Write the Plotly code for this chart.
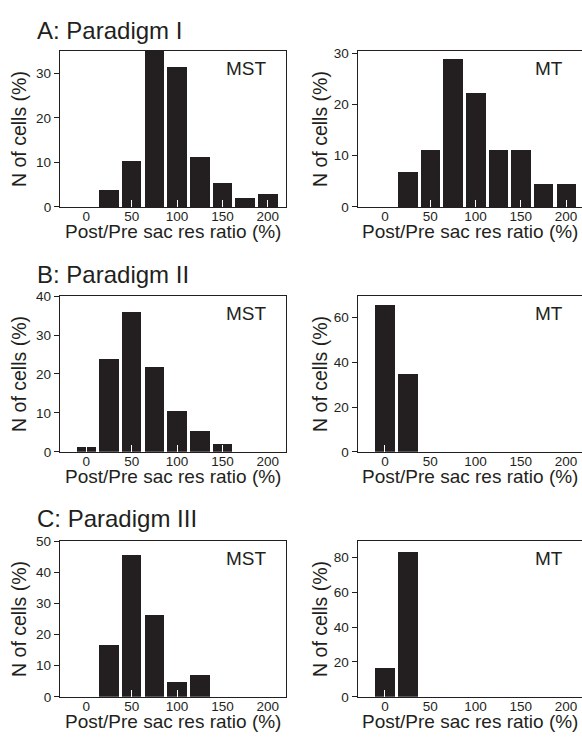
import plotly.graph_objects as go

# ---- data ----
bins = [0, 25, 50, 75, 100, 125, 150, 175, 200]
tick_vals = [0, 50, 100, 150, 200]

A_MST = [0, 3.7, 10.4, 35.0, 31.5, 11.3, 5.3, 2.0, 2.9]
A_MT = [0, 6.7, 11.1, 28.9, 22.2, 11.1, 11.1, 4.4, 4.4]
B_MST = [1.3, 23.8, 35.9, 21.8, 10.5, 5.3, 2.1, 0, 0]
B_MT = [65.5, 34.5, 0, 0, 0, 0, 0, 0, 0]
C_MST = [0, 16.7, 45.5, 26.2, 4.8, 7.1, 0, 0, 0]
C_MT = [16.7, 83.3, 0, 0, 0, 0, 0, 0, 0]

panel_titles = ["A: Paradigm I", "B: Paradigm II", "C: Paradigm III"]
area_labels = ["MST", "MT"]
x_title = "Post/Pre sac res ratio (%)"
y_title = "N of cells (%)"

series = [A_MST, A_MT, B_MST, B_MT, C_MST, C_MT]
y_ranges = [[0, 35], [0, 30.4], [0, 40], [0, 69.5], [0, 50], [0, 89.4]]
y_dticks = [10, 10, 10, 20, 10, 20]

# ---- layout geometry (pixels) ----
W, H = 582, 745
DARK = "#231f20"
FONT = "Liberation Sans, Arial, Helvetica, sans-serif"

def px(x):
    return x / W

def py(y):
    return 1 - y / H

col_dom = [[px(60), px(286)], [px(357.7), 1.0]]
col_range = [[-29, 220], [-30, 217.6]]
row_dom = [[py(204), py(45)], [py(454), py(295)], [py(704), py(545)]]
row_title_y = [24, 273, 522]
label_y = [62.5, 312.5, 562.5]

fig = go.Figure()
layout = {}
annotations = []

for i, vals in enumerate(series):
    r, c = divmod(i, 2)
    n = i + 1
    xa = "x" if n == 1 else f"x{n}"
    ya = "y" if n == 1 else f"y{n}"
    xkey = "xaxis" if n == 1 else f"xaxis{n}"
    ykey = "yaxis" if n == 1 else f"yaxis{n}"
    ov = n + 6
    ovkey = f"xaxis{ov}"

    fig.add_trace(go.Bar(
        x=bins, y=vals, width=21.5, xaxis=xa, yaxis=ya,
        marker=dict(color=DARK, line=dict(width=0)), showlegend=False,
    ))

    layout[xkey] = dict(
        domain=col_dom[c], range=col_range[c], anchor=ya,
        tickmode="array", tickvals=tick_vals,
        ticks="inside", ticklen=7, tickwidth=1.2, tickcolor=DARK,
        showline=True, linecolor=DARK, linewidth=1.3, mirror=True,
        showgrid=False, zeroline=False, layer="below traces",
        tickfont=dict(family=FONT, size=13.5, color=DARK),
        ticklabelstandoff=-3, fixedrange=True,
    )
    layout[ovkey] = dict(
        overlaying=xa, anchor=ya, range=col_range[c],
        tickmode="array", tickvals=tick_vals,
        ticks="inside", ticklen=7, tickwidth=1.2, tickcolor="white",
        showticklabels=False, showline=False, showgrid=False,
        zeroline=False, layer="above traces", fixedrange=True,
    )
    layout[ykey] = dict(
        domain=row_dom[r], range=y_ranges[i], anchor=xa,
        tick0=0, dtick=y_dticks[i],
        ticks="outside", ticklen=5, tickwidth=1.2, tickcolor=DARK,
        showline=True, linecolor=DARK, linewidth=1.3, mirror=(c == 0),
        showgrid=False, zeroline=False,
        tickfont=dict(family=FONT, size=13.5, color=DARK), fixedrange=True,
    )
    # empty helper trace so the white-tick overlay axis is drawn
    fig.add_trace(go.Scatter(x=[None], y=[None], xaxis=f"x{ov}", yaxis=ya,
                             showlegend=False, hoverinfo="skip"))

    # area label (MST / MT)
    label_right = 269.3 if c == 0 else 565
    annotations.append(dict(
        text=area_labels[c], xref="paper", yref="paper",
        x=px(label_right), y=py(label_y[r]), xanchor="right", yanchor="middle",
        showarrow=False, font=dict(family=FONT, size=19, color=DARK),
    ))
    # x title
    xc = (col_dom[c][0] + col_dom[c][1]) / 2 if c == 0 else px(470)
    annotations.append(dict(
        text=x_title, xref="paper", yref="paper",
        x=xc, y=(row_dom[r][0] - 25 / H), xanchor="center", yanchor="middle",
        showarrow=False, font=dict(family=FONT, size=19, color=DARK),
    ))
    # y title
    ytx = 19 if c == 0 else 320
    annotations.append(dict(
        text=y_title, xref="paper", yref="paper", textangle=-90,
        x=px(ytx), y=(row_dom[r][0] + row_dom[r][1]) / 2,
        xanchor="center", yanchor="middle",
        showarrow=False, font=dict(family=FONT, size=19.5, color=DARK),
    ))

for r, t in enumerate(panel_titles):
    annotations.append(dict(
        text=t, xref="paper", yref="paper", x=px(35), y=py(row_title_y[r]),
        xanchor="left", yanchor="middle", showarrow=False,
        font=dict(family=FONT, size=24, color=DARK),
    ))

fig.update_layout(
    width=W, height=H, margin=dict(l=0, r=0, t=0, b=0),
    paper_bgcolor="white", plot_bgcolor="white",
    annotations=annotations, bargap=0, **layout,
)

fig.write_html(
    "out.html",
    config={"displayModeBar": False},
    post_script="document.body.style.margin='0';document.body.style.overflow='hidden';",
)
